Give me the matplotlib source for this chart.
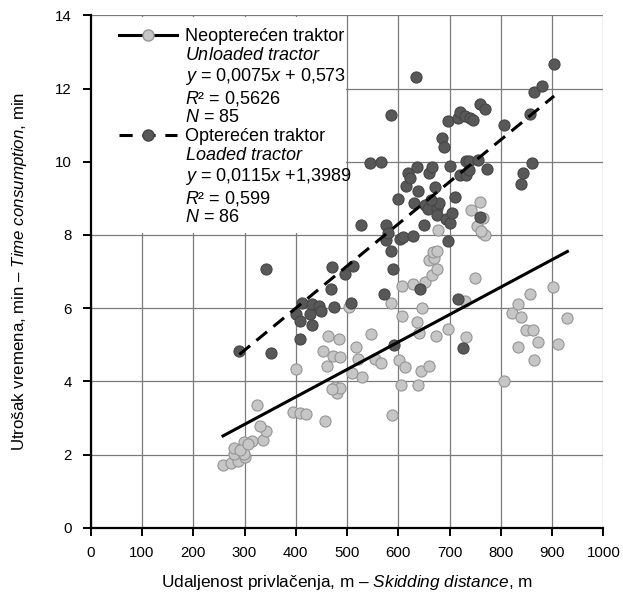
import matplotlib
matplotlib.use("Agg")
import matplotlib.pyplot as plt
from matplotlib import font_manager
from matplotlib.lines import Line2D
from matplotlib.patches import Rectangle

# unloaded tractor (light grey points)
unl_x = [258, 273, 288, 301, 280, 299, 279, 298, 314, 337, 341, 330, 325, 395, 408, 420, 457,
         400, 454, 461, 462, 472, 477, 481, 486, 484, 487, 503, 510, 518, 522, 530, 546, 554,
         567, 585, 587, 601, 605, 607, 607, 613, 628, 637, 639, 641, 644, 646, 652, 659, 665,
         676, 660, 670, 668, 675, 678, 674, 696, 731, 732, 742, 750, 753, 759, 763, 766, 770,
         807, 821, 833, 833, 839, 850, 857, 862, 864, 872, 901, 911, 930, 292, 306, 470, 762]
unl_y = [1.70, 1.78, 1.83, 1.92, 2.01, 2.01, 2.17, 2.33, 2.38, 2.40, 2.65, 2.79, 3.34, 3.17, 3.14,
         3.12, 2.92, 4.33, 4.84, 4.42, 5.24, 4.70, 3.84, 3.67, 3.83, 5.16, 4.67, 6.02, 4.23, 4.93,
         4.61, 4.11, 5.28, 4.62, 4.49, 6.15, 3.07, 4.59, 3.90, 5.78, 6.60, 4.38, 6.66, 5.63, 3.90,
         5.33, 4.27, 5.99, 6.70, 4.42, 6.90, 7.06, 7.32, 7.36, 7.52, 7.55, 8.13, 5.24, 5.42, 6.20,
         5.22, 8.69, 6.81, 8.24, 8.91, 8.05, 8.45, 8.01, 4.02, 5.87, 6.10, 4.95, 5.75, 5.39, 6.38,
         5.39, 4.58, 5.08, 6.59, 5.01, 5.74, 2.12, 2.28, 3.80, 8.10]

# loaded tractor (dark grey points)
lod_x = [290, 351, 341, 400, 408, 412, 408, 428, 431, 431, 446, 450, 470, 469, 475, 496, 507, 511,
         528, 545, 566, 573, 576, 576, 585, 589, 591, 585, 599, 603, 610, 616, 619, 628, 631, 634,
         637, 638, 642, 651, 652, 657, 660, 665, 672, 675, 675, 680, 685, 689, 693, 696, 697, 701,
         701, 711, 716, 717, 720, 720, 730, 733, 733, 737, 737, 740, 727, 756, 759, 759, 769, 774,
         806, 839, 843, 857, 861, 865, 880, 904, 622, 663, 745, 705, 580]
lod_y = [4.83, 4.78, 7.06, 5.83, 5.65, 6.13, 5.16, 5.84, 6.12, 5.54, 6.07, 5.92, 7.13, 6.53, 6.02,
         6.94, 6.15, 7.15, 8.28, 9.97, 9.98, 6.38, 8.27, 7.87, 7.57, 7.06, 4.98, 11.28, 8.97, 7.88,
         7.93, 9.34, 9.68, 7.98, 8.86, 12.32, 9.86, 9.19, 6.51, 8.27, 8.82, 8.72, 9.68, 9.86, 9.30,
         8.73, 8.54, 8.86, 10.64, 10.40, 8.43, 7.84, 11.12, 9.87, 8.32, 9.04, 11.19, 6.24, 11.35,
         9.64, 11.25, 10.03, 9.64, 10.03, 9.77, 11.20, 4.90, 10.05, 11.58, 8.50, 11.44, 9.79, 11.00,
         9.39, 9.70, 11.30, 9.96, 11.91, 12.07, 12.66, 9.55, 8.95, 11.15, 8.60, 8.05]

# regression equations from the chart
unl_slope, unl_icpt = 0.0075, 0.573
lod_slope, lod_icpt = 0.0115, 1.3989

legend_unl = ["Neopterećen traktor", r"$\it{Unloaded\ tractor}$",
              r"$\it{y}$ = 0,0075$\it{x}$ + 0,573", r"$\it{R}$² = 0,5626", r"$\it{N}$ = 85"]
legend_lod = ["Opterećen traktor", r"$\it{Loaded\ tractor}$",
              r"$\it{y}$ = 0,0115$\it{x}$ +1,3989", r"$\it{R}$² = 0,599", r"$\it{N}$ = 86"]

installed = {f.name for f in font_manager.fontManager.ttflist}
fam = "Liberation Sans Narrow" if "Liberation Sans Narrow" in installed else "Liberation Sans"
plt.rcParams["font.family"] = [fam, "DejaVu Sans"]
plt.rcParams["mathtext.fontset"] = "custom"
plt.rcParams["mathtext.rm"] = fam
plt.rcParams["mathtext.it"] = fam + ":italic"

light, light_edge = "#c6c6c6", "#959595"
dark, dark_edge = "#585858", "#464646"

fig = plt.figure(figsize=(6.23, 5.93), dpi=100)
ax = fig.add_axes([0.1457, 0.1101, 0.8227, 0.8641])
ax.set_xlim(0, 1000)
ax.set_ylim(0, 14)
ax.set_xticks(range(0, 1001, 100))
ax.set_yticks(range(0, 15, 2))
ax.set_axisbelow(True)
ax.grid(color="#7a7a7a", lw=0.9)
ax.spines[["top", "right"]].set_visible(False)
for s in ["left", "bottom"]:
    ax.spines[s].set_linewidth(1.6)
    ax.spines[s].set_zorder(6)
ax.tick_params(direction="out", length=5.5, width=1.4, labelsize=10.8, pad=8)

# white area behind the legend
ax.add_patch(Rectangle((3, 8.04), 494, 5.92, facecolor="white", edgecolor="none", zorder=1))

ax.scatter(unl_x, unl_y, s=64, c=light, edgecolors=light_edge, linewidths=0.8, zorder=3)
ax.scatter(lod_x, lod_y, s=64, c=dark, edgecolors=dark_edge, linewidths=0.8, zorder=4)

ux = [min(unl_x), max(unl_x)]
ax.plot(ux, [unl_slope * v + unl_icpt for v in ux], color="black", lw=2.2, zorder=5)
lx = [min(lod_x), max(lod_x)]
ax.plot(lx, [lod_slope * v + lod_icpt for v in lx], color="black", lw=2.2,
        linestyle=(0, (4.5, 2.7)), zorder=5)

h_unl = Line2D([], [], color="black", lw=2.2, marker="o", markersize=8,
               markerfacecolor=light, markeredgecolor=light_edge)
h_lod = Line2D([], [], color="black", lw=2.2, linestyle=(0, (4.3, 3.2)), marker="o",
               markersize=8, markerfacecolor=dark, markeredgecolor=dark_edge)
blank = Line2D([], [], linestyle="none")
handles = [h_unl] + [blank] * 4 + [h_lod] + [blank] * 4
ax.legend(handles, legend_unl + legend_lod, loc="upper left", bbox_to_anchor=(0.055, 0.975),
          frameon=False, fontsize=13, handlelength=3.2, handletextpad=0.45,
          labelspacing=0.1, borderpad=0, borderaxespad=0)

ax.set_xlabel(r"Udaljenost privlačenja, m – $\it{Skidding\ distance}$, m", fontsize=12.4)
ax.set_ylabel(r"Utrošak vremena, min – $\it{Time\ consumption}$, min", fontsize=12.2)
ax.xaxis.set_label_coords(0.5, -0.089)
ax.yaxis.set_label_coords(-0.12, 0.5)

fig.savefig("out.png", dpi=100)
